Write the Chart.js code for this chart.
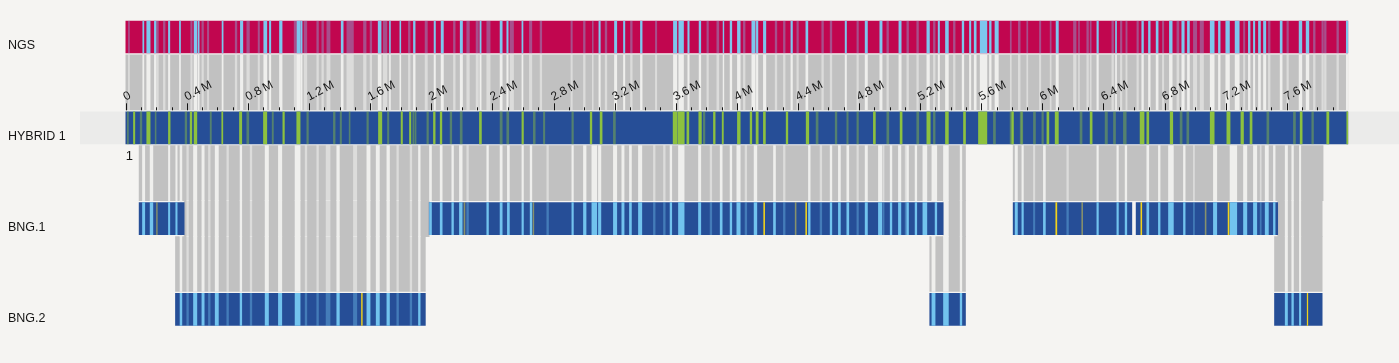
<!DOCTYPE html>
<html>
<head>
<meta charset="utf-8">
<script src="https://cdn.jsdelivr.net/npm/chart.js@4.4.1/dist/chart.umd.min.js"></script>
<style>
  body { margin: 0; background: #f5f4f2; }
  #wrap { width: 1399px; height: 363px; }
</style>
</head>
<body>
<div id="wrap"><canvas id="mapChart"></canvas></div>
<script>
// rows of the map, top to bottom (link rows carry the grey alignment lines)
const rows = ["NGS", "ngsLink", "HYBRID 1", "hybridLink", "BNG.1", "bngLink", "BNG.2"];
const trackNames = ["NGS", "HYBRID 1", "BNG.1", "BNG.2"];
const chromosomeLabel = "1";

// axis, in Mb
const xMin = -0.3;
const xMax = 8.335;
const minorStep = 0.1;
const majorTickValues = [0, 0.4, 0.8, 1.2, 1.6, 2, 2.4, 2.8, 3.2, 3.6, 4, 4.4, 4.8, 5.2, 5.6, 6, 6.4, 6.8, 7.2, 7.6];
const tickLabels = ["0", "0.4\u2009M", "0.8\u2009M", "1.2\u2009M", "1.6\u2009M", "2\u2009M", "2.4\u2009M", "2.8\u2009M", "3.2\u2009M", "3.6\u2009M", "4\u2009M", "4.4\u2009M", "4.8\u2009M", "5.2\u2009M", "5.6\u2009M", "6\u2009M", "6.4\u2009M", "6.8\u2009M", "7.2\u2009M", "7.6\u2009M"];

// extents
const ngsExtent = [[0, 8.0]];
const hybridExtent = [[0, 8.0]];
const hybridRowBand = [[xMin, xMax]];
const bng1Contigs = [[0.087, 0.382], [1.986, 5.351], [5.809, 6.586], [6.614, 7.541]];
const bng2Contigs = [[0.325, 1.961], [5.263, 5.497], [7.520, 7.832]];
const hybridToBng1Links = [[0.087, 5.497], [5.809, 7.838]];
const bng1PassLinks = [[0.382, 1.986], [5.351, 5.497], [7.541, 7.832]];
const bng1ToBng2Links = [[0.325, 1.961], [5.263, 5.497], [7.520, 7.832]];

// NGS unaligned stretches (light blue)
const ngsStripes = [[0.111, 0.118], [0.137, 0.159], [0.187, 0.198], [0.279, 0.288], [0.351, 0.358], [0.447, 0.465],
  [0.473, 0.480], [0.630, 0.637], [0.750, 0.766], [0.903, 0.923], [0.940, 0.949], [1.006, 1.023], [1.121, 1.143],
  [1.148, 1.154], [1.410, 1.423], [1.652, 1.671], [1.726, 1.732], [1.794, 1.800], [1.883, 1.894], [2.018, 2.027],
  [2.064, 2.079], [2.189, 2.204], [2.318, 2.326], [2.450, 2.464], [2.494, 2.503], [2.593, 2.600], [3.097, 3.106],
  [3.199, 3.214], [3.258, 3.267], [3.369, 3.380], [3.585, 3.607], [3.620, 3.651], [3.679, 3.688], [3.753, 3.764],
  [3.910, 3.915], [3.956, 3.967], [4.004, 4.022], [4.098, 4.120], [4.128, 4.138], [4.174, 4.190], [4.354, 4.364],
  [4.452, 4.465], [4.709, 4.718], [4.840, 4.855], [4.936, 4.951], [5.061, 5.076], [5.244, 5.261], [5.318, 5.327],
  [5.366, 5.385], [5.475, 5.486], [5.523, 5.532], [5.554, 5.567], [5.593, 5.637], [5.654, 5.665], [5.690, 5.712],
  [6.090, 6.105], [6.357, 6.367], [6.479, 6.486], [6.651, 6.662], [6.695, 6.706], [6.745, 6.758], [6.832, 6.850],
  [6.913, 6.929], [6.950, 6.963], [7.099, 7.125], [7.153, 7.164], [7.201, 7.225], [7.262, 7.289], [7.349, 7.360],
  [7.382, 7.391], [7.415, 7.428], [7.448, 7.463], [7.557, 7.570], [7.681, 7.699], [7.727, 7.745], [7.990, 8.0]];
const ngsFaint = [[0.017, 0.024], [0.203, 0.213], [0.246, 0.257], [0.425, 0.434], [0.498, 0.508], [0.534, 0.543],
  [0.716, 0.727], [0.792, 0.809], [0.866, 0.875], [1.102, 1.119], [1.167, 1.185], [1.250, 1.261], [1.283, 1.294],
  [1.316, 1.337], [1.447, 1.490], [1.556, 1.573], [1.599, 1.610], [1.686, 1.709], [1.850, 1.861], [1.959, 1.974],
  [2.145, 2.156], [2.232, 2.249], [2.293, 2.308], [2.363, 2.385], [2.516, 2.538], [2.642, 2.658], [2.712, 2.723],
  [2.914, 2.923], [2.996, 3.007], [3.054, 3.060], [3.138, 3.149], [3.304, 3.315], [3.467, 3.476], [3.804, 3.814],
  [3.869, 3.882], [4.043, 4.054], [4.251, 4.262], [4.305, 4.316], [4.393, 4.403], [4.556, 4.567], [4.611, 4.622],
  [4.786, 4.796], [4.982, 4.993], [5.113, 5.124], [5.178, 5.189], [5.287, 5.298], [5.418, 5.429], [5.790, 5.797],
  [5.843, 5.855], [5.898, 5.905], [5.981, 5.990], [6.051, 6.058], [6.204, 6.221], [6.237, 6.243], [6.291, 6.302],
  [6.313, 6.320], [6.455, 6.466], [6.511, 6.521], [6.547, 6.555], [6.619, 6.629], [6.786, 6.795], [6.881, 6.894],
  [6.989, 7.011], [7.033, 7.055], [7.317, 7.326], [7.480, 7.491], [7.601, 7.611], [7.775, 7.786], [7.830, 7.840],
  [7.847, 7.858], [7.928, 7.939]];

// HYBRID 1 stretches (green)
const hybridGreen = [[0.050, 0.059], [0.137, 0.159], [0.279, 0.290], [0.421, 0.432], [0.447, 0.465], [0.628, 0.635],
  [0.744, 0.759], [0.901, 0.923], [1.028, 1.038], [1.119, 1.141], [1.654, 1.676], [1.802, 1.811], [1.857, 1.866],
  [2.014, 2.025], [2.058, 2.069], [2.315, 2.328], [2.593, 2.603], [3.040, 3.051], [3.105, 3.118], [3.583, 3.610],
  [3.616, 3.656], [3.673, 3.686], [3.751, 3.768], [3.847, 3.858], [3.904, 3.912], [4.004, 4.022], [4.087, 4.098],
  [4.126, 4.140], [4.174, 4.187], [4.323, 4.334], [4.454, 4.471], [4.894, 4.907], [5.069, 5.082], [5.244, 5.266],
  [5.366, 5.385], [5.484, 5.497], [5.582, 5.637], [6.030, 6.043], [5.800, 5.811], [6.084, 6.105], [6.313, 6.326],
  [6.640, 6.666], [6.684, 6.697], [6.837, 6.854], [7.099, 7.125], [7.208, 7.229], [7.300, 7.317], [7.360, 7.373],
  [7.688, 7.701], [7.862, 7.876], [7.993, 8.0]];
const hybridGreenFaint = [[0.010, 0.017], [0.094, 0.105], [0.192, 0.198], [0.388, 0.399], [0.552, 0.560],
  [0.792, 0.805], [0.958, 0.966], [1.185, 1.195], [1.359, 1.370], [1.403, 1.412], [1.462, 1.468], [1.578, 1.588],
  [1.713, 1.722], [1.879, 1.887], [1.894, 1.900], [1.971, 1.981], [2.123, 2.134], [2.189, 2.202], [2.450, 2.464],
  [2.494, 2.507], [2.668, 2.680], [2.734, 2.743], [2.920, 2.930], [3.192, 3.205], [3.781, 3.791], [4.519, 4.532],
  [4.644, 4.655], [4.720, 4.729], [4.786, 4.796], [4.982, 4.995], [5.178, 5.191], [5.287, 5.298], [5.680, 5.693],
  [5.789, 5.804], [5.861, 5.872], [5.942, 5.955], [5.855, 5.868], [5.997, 6.007], [6.247, 6.260], [6.411, 6.426],
  [6.466, 6.479], [6.531, 6.549], [6.902, 6.915], [6.946, 6.959], [7.470, 7.483], [7.644, 7.657], [7.764, 7.775]];

// BNG map stretches (light blue / yellow)
const bng1Stripes = [[0.109, 0.124], [0.159, 0.177], [0.279, 0.288], [0.327, 0.336], [1.988, 2.001], [2.058, 2.071],
  [2.134, 2.145], [2.184, 2.202], [2.363, 2.374], [2.450, 2.464], [2.498, 2.511], [2.593, 2.603], [2.647, 2.658],
  [2.920, 2.930], [2.996, 3.013], [3.051, 3.083], [3.094, 3.110], [3.192, 3.214], [3.247, 3.262], [3.297, 3.310],
  [3.356, 3.378], [3.563, 3.574], [3.618, 3.655], [3.749, 3.764], [3.891, 3.904], [3.956, 3.967], [4.000, 4.022],
  [4.113, 4.131], [4.240, 4.253], [4.469, 4.480], [4.611, 4.622], [4.665, 4.678], [4.720, 4.733], [4.840, 4.855],
  [4.927, 4.949], [5.004, 5.015], [5.058, 5.074], [5.113, 5.124], [5.167, 5.178], [5.218, 5.244], [5.298, 5.309],
  [5.822, 5.837], [5.866, 5.876], [6.007, 6.020], [6.357, 6.367], [6.488, 6.498], [6.542, 6.553], [6.684, 6.697],
  [6.760, 6.771], [6.826, 6.858], [6.924, 6.935], [7.120, 7.142], [7.229, 7.273], [7.317, 7.339], [7.382, 7.404],
  [7.459, 7.480], [7.513, 7.524]];
const bng1Faint = [[2.232, 2.243], [2.756, 2.767], [3.454, 3.465], [3.520, 3.531], [3.825, 3.836], [4.054, 4.065],
  [4.305, 4.316], [4.545, 4.556], [4.786, 4.796], [4.956, 4.964], [5.102, 5.113], [5.942, 5.951], [6.160, 6.171],
  [6.989, 6.996], [7.426, 7.433]];
const bng1Yellow = [[4.176, 4.182], [4.451, 4.457], [6.088, 6.095], [6.645, 6.651], [7.216, 7.222]];
const bng1YellowFaint = [[0.201, 0.206], [2.214, 2.220], [2.666, 2.671], [4.382, 4.388], [6.258, 6.264], [7.066, 7.072]];
const bng2Stripes = [[0.355, 0.367], [0.443, 0.465], [0.498, 0.513], [0.585, 0.606], [0.748, 0.759], [0.912, 0.934],
  [0.999, 1.021], [1.108, 1.141], [1.381, 1.398], [1.578, 1.599], [1.639, 1.660], [1.709, 1.726], [1.916, 1.927],
  [5.277, 5.298], [5.353, 5.385], [5.462, 5.473], [7.590, 7.605], [7.633, 7.644], [7.683, 7.692]];
const bng2Faint = [[0.399, 0.410], [0.541, 0.552], [0.661, 0.672], [0.814, 0.825], [1.174, 1.185], [1.250, 1.261],
  [1.311, 1.337], [1.490, 1.512], [1.774, 1.785], [1.861, 1.872]];
const bng2Yellow = [[1.543, 1.548], [7.734, 7.738]];

const colors = {
  red: "#c1064f", lightBlue: "#7dc7ee", redFaint: "rgba(125,199,238,0.38)",
  grey: "#c1c1c1", gap: "#efefed", gapFaint: "rgba(248,248,246,0.5)",
  blue: "#264e97", green: "#8dc13f", greenFaint: "rgba(141,193,63,0.45)",
  bngLight: "#72c3ee", bngFaint: "rgba(114,195,238,0.4)",
  yellow: "#f2d31b", yellowFaint: "rgba(200,190,80,0.6)", band: "#ebebea"
};

function track(label, ranges, row, color, thickness, order) {
  return {
    label: label,
    data: ranges.map(r => ({ x: r, y: row })),
    backgroundColor: color,
    barThickness: thickness,
    grouped: false,
    borderWidth: 0,
    order: order
  };
}

const datasets = [
  track("hybrid row", hybridRowBand, "HYBRID 1", colors.band, 32, 40),
  track("ngs-hybrid links", ngsExtent, "ngsLink", colors.grey, 55, 30),
  track("hybrid-bng links", hybridToBng1Links, "hybridLink", colors.grey, 55, 30),
  track("pass links", bng1PassLinks, "BNG.1", colors.grey, 36, 30),
  track("bng1-bng2 links", bng1ToBng2Links, "bngLink", colors.grey, 55, 30),
  track("ngs gaps", ngsStripes, "ngsLink", colors.gap, 55, 25),
  track("ngs faint gaps", ngsFaint, "ngsLink", colors.gapFaint, 55, 26),
  track("bng1 gaps", bng1Stripes, "hybridLink", colors.gap, 55, 25),
  track("bng2 gaps", bng2Stripes, "hybridLink", colors.gap, 55, 25),
  track("bng1 faint gaps", bng1Faint, "hybridLink", colors.gapFaint, 55, 26),
  track("bng2 faint gaps", bng2Faint, "hybridLink", colors.gapFaint, 55, 26),
  track("bng2 pass gaps", bng2Stripes, "BNG.1", colors.gap, 36, 25),
  track("bng2 pass faint gaps", bng2Faint, "BNG.1", colors.gapFaint, 36, 26),
  track("bng2 gaps low", bng2Stripes, "bngLink", colors.gap, 55, 25),
  track("bng2 faint gaps low", bng2Faint, "bngLink", colors.gapFaint, 55, 26),
  track("NGS", ngsExtent, "NGS", colors.red, 32, 20),
  track("HYBRID 1", hybridExtent, "HYBRID 1", colors.blue, 32, 20),
  track("BNG.1", bng1Contigs, "BNG.1", colors.blue, 32, 20),
  track("BNG.2", bng2Contigs, "BNG.2", colors.blue, 32, 20),
  track("ngs stripes", ngsStripes, "NGS", colors.lightBlue, 32, 15),
  track("ngs faint", ngsFaint, "NGS", colors.redFaint, 32, 16),
  track("hybrid green", hybridGreen, "HYBRID 1", colors.green, 32, 15),
  track("hybrid green faint", hybridGreenFaint, "HYBRID 1", colors.greenFaint, 32, 16),
  track("bng1 stripes", bng1Stripes, "BNG.1", colors.bngLight, 32, 15),
  track("bng1 faint", bng1Faint, "BNG.1", colors.bngFaint, 32, 16),
  track("bng2 stripes", bng2Stripes, "BNG.2", colors.bngLight, 32, 15),
  track("bng2 faint", bng2Faint, "BNG.2", colors.bngFaint, 32, 16),
  track("bng1 yellow", bng1Yellow, "BNG.1", colors.yellow, 32, 10),
  track("bng1 yellow faint", bng1YellowFaint, "BNG.1", colors.yellowFaint, 32, 11),
  track("bng2 yellow", bng2Yellow, "BNG.2", colors.yellow, 32, 10)
];

// ruler drawn on top of the HYBRID 1 track
const hybridAxis = {
  id: "hybridAxis",
  afterDatasetsDraw(chart) {
    const ctx = chart.ctx;
    const x = chart.scales.x;
    const y = chart.scales.y;
    const barTop = y.getPixelForValue(rows.indexOf("HYBRID 1")) - 16;
    const base = barTop - 1.5;
    ctx.save();
    ctx.strokeStyle = "#151515";
    ctx.lineWidth = 1;
    const end = hybridExtent[0][1];
    for (let k = 0; k * minorStep < end - 1e-6; k++) {
      const px = Math.round(x.getPixelForValue(k * minorStep)) + 0.5;
      ctx.beginPath();
      ctx.moveTo(px, base);
      ctx.lineTo(px, base - (k % 4 === 0 ? 7 : 3));
      ctx.stroke();
    }
    ctx.fillStyle = "#151515";
    ctx.font = "12px 'Liberation Sans', Arial, sans-serif";
    ctx.textAlign = "left";
    ctx.textBaseline = "alphabetic";
    majorTickValues.forEach((v, i) => {
      ctx.save();
      ctx.translate(x.getPixelForValue(v), base - 9.5);
      ctx.rotate(-28 * Math.PI / 180);
      ctx.fillText(tickLabels[i], 0, 0);
      ctx.restore();
    });
    ctx.font = "13px 'Liberation Sans', Arial, sans-serif";
    ctx.textBaseline = "top";
    ctx.fillText(chromosomeLabel, x.getPixelForValue(0), barTop + 32 + 6);
    ctx.restore();
  }
};

new Chart(document.getElementById("mapChart"), {
  type: "bar",
  data: { labels: rows, datasets: datasets },
  options: {
    indexAxis: "y",
    responsive: true,
    maintainAspectRatio: false,
    animation: false,
    events: [],
    layout: { padding: { left: 8, right: 0, top: 14.3, bottom: 30.9 } },
    plugins: { legend: { display: false }, tooltip: { enabled: false } },
    scales: {
      x: { type: "linear", min: xMin, max: xMax, display: false },
      y: {
        type: "category",
        labels: rows,
        offset: true,
        grid: { display: false, drawTicks: false },
        border: { display: false },
        ticks: {
          autoSkip: false,
          crossAlign: "far",
          labelOffset: 9,
          padding: 0,
          color: "#151515",
          font: { family: "'Liberation Sans', Arial, sans-serif", size: 12.5 },
          callback: (value, index) => trackNames.includes(rows[index]) ? rows[index] : ""
        },
        afterFit(scale) { scale.width = 72; }
      }
    }
  },
  plugins: [hybridAxis]
});
</script>
</body>
</html>
